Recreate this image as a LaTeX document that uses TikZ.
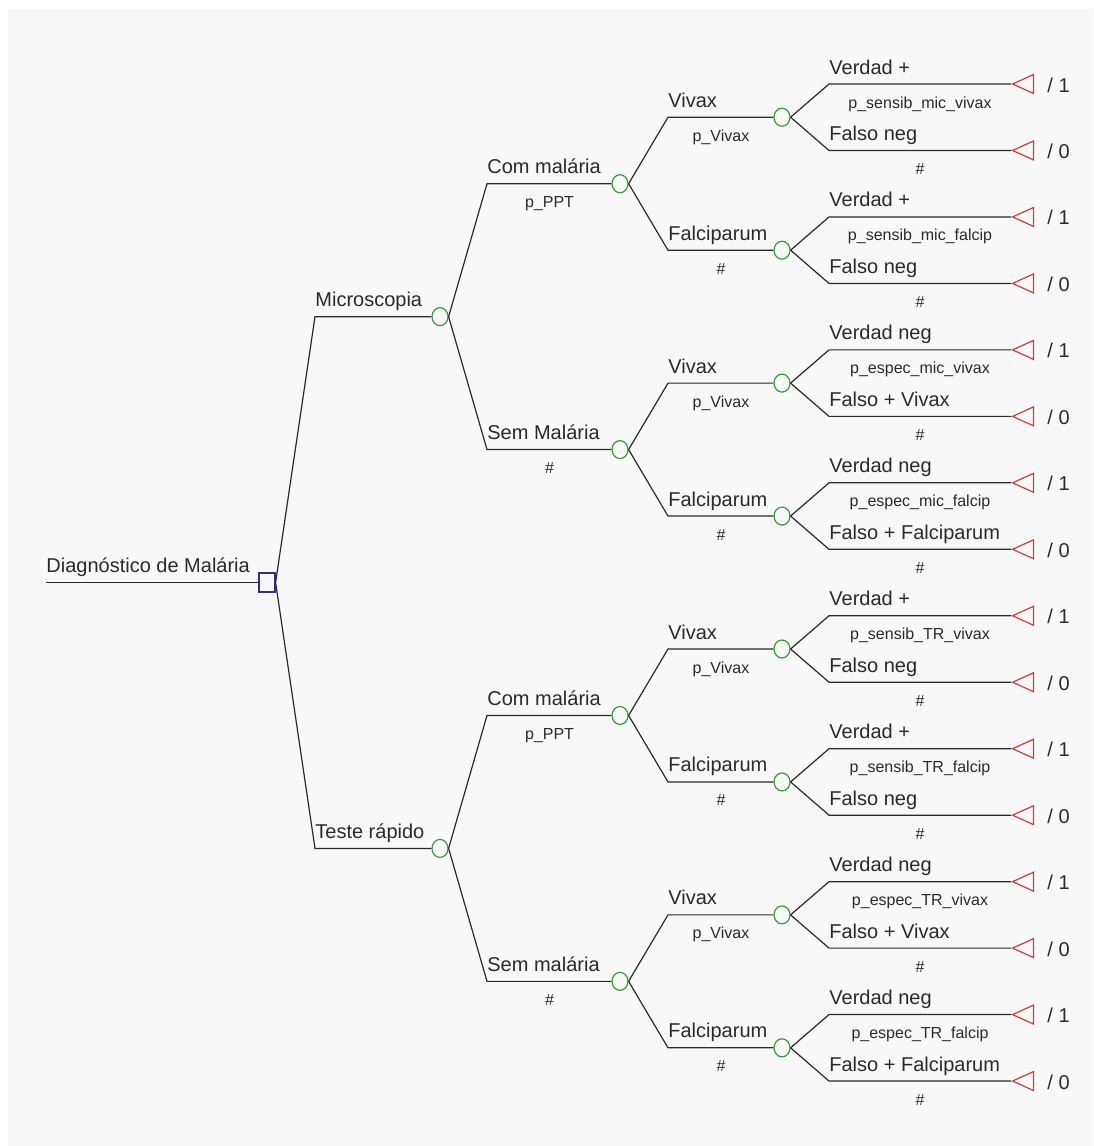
\documentclass[tikz,border=0pt]{standalone}
\usepackage{fontspec}
\setmainfont{Liberation Sans}
\usetikzlibrary{shapes}
\usepackage{xcolor}
\definecolor{panel}{HTML}{F8F8F8}
\definecolor{linegray}{HTML}{2A2A2A}
\definecolor{decblue}{HTML}{2E2E9A}
\definecolor{chgreen}{HTML}{3A983A}
\definecolor{termred}{HTML}{D63A3A}

\begin{document}
\begin{tikzpicture}[x=0.5pt,y=-0.5pt]
      \tikzstyle{branch} = [draw=linegray, line width=0.6pt]
      \tikzstyle{decision} = [rectangle, draw=decblue, line width=0.6pt, minimum width=8pt, minimum height=9.5pt, inner sep=0pt]
      \tikzstyle{chance} = [ellipse, draw=chgreen, line width=0.6pt, minimum width=8pt, minimum height=9pt, inner sep=0pt]
      \tikzstyle{terminal} = [isosceles triangle, shape border rotate=180, isosceles triangle stretches, draw=termred, line width=0.6pt, minimum width=9.5pt, minimum height=10.5pt, inner sep=0pt]
      \tikzstyle{lab} = [anchor=base west, inner sep=0pt, yshift=5pt, text=linegray, font=\fontsize{10}{12}\selectfont]
      \tikzstyle{prob} = [anchor=base, inner sep=0pt, yshift=-12pt, text=linegray, font=\fontsize{8}{10}\selectfont]
      \tikzstyle{payoff} = [anchor=base west, inner sep=0pt, yshift=-4pt, text=linegray, font=\fontsize{10}{12}\selectfont]

      \useasboundingbox (0,0) rectangle (1093,1146);
      \fill[panel] (8,9) rectangle (1093,1146);

      % raiz
      \coordinate (start) at (46,582.5);
      \node[decision] (d0) at (267,582.5) {};
      \draw[branch] (start) -- (d0);
      \node[lab] (d0-lab) at (start) {Diagnóstico de Malária};

      % testes
      \foreach \j/\txt in {1/Microscopia, 2/Teste rápido} {
        \pgfmathsetmacro\yy{84+66.47*(8*(\j-1)+3.5)}
        \node[chance] (a\j) at (440,\yy) {};
        \draw[branch] (d0.east) -- (315,\yy) -- (a\j);
        \node[lab] (a\j-lab) at (315,\yy) {\txt};
      }

      % com / sem malaria
      \foreach \j/\txt/\pr in {1/Com malária/p\_PPT, 2/Sem Malária/\#, 3/Com malária/p\_PPT, 4/Sem malária/\#} {
        \pgfmathsetmacro\yy{84+66.47*(4*(\j-1)+1.5)}
        \pgfmathtruncatemacro\up{(\j+1)/2}
        \node[chance] (b\j) at (620,\yy) {};
        \draw[branch] (a\up.east) -- (487,\yy) -- (b\j);
        \node[lab] (b\j-lab) at (487,\yy) {\txt};
        \node[prob] (b\j-pr) at (549.5,\yy) {\pr};
      }

      % especie
      \foreach \j/\txt/\pr in {1/Vivax/p\_Vivax, 2/Falciparum/\#, 3/Vivax/p\_Vivax, 4/Falciparum/\#,
                               5/Vivax/p\_Vivax, 6/Falciparum/\#, 7/Vivax/p\_Vivax, 8/Falciparum/\#} {
        \pgfmathsetmacro\yy{84+66.47*(2*(\j-1)+0.5)}
        \pgfmathtruncatemacro\up{(\j+1)/2}
        \node[chance] (c\j) at (782,\yy) {};
        \draw[branch] (b\up.east) -- (668,\yy) -- (c\j);
        \node[lab] (c\j-lab) at (668,\yy) {\txt};
        \node[prob] (c\j-pr) at (721,\yy) {\pr};
      }

      % resultados
      \foreach \j/\txt/\pr in {1/Verdad +/p\_sensib\_mic\_vivax, 2/Falso neg/\#,
                               3/Verdad +/p\_sensib\_mic\_falcip, 4/Falso neg/\#,
                               5/Verdad neg/p\_espec\_mic\_vivax, 6/Falso + Vivax/\#,
                               7/Verdad neg/p\_espec\_mic\_falcip, 8/Falso + Falciparum/\#,
                               9/Verdad +/p\_sensib\_TR\_vivax, 10/Falso neg/\#,
                               11/Verdad +/p\_sensib\_TR\_falcip, 12/Falso neg/\#,
                               13/Verdad neg/p\_espec\_TR\_vivax, 14/Falso + Vivax/\#,
                               15/Verdad neg/p\_espec\_TR\_falcip, 16/Falso + Falciparum/\#} {
        \pgfmathsetmacro\yy{84+66.47*(\j-1)}
        \pgfmathtruncatemacro\up{(\j+1)/2}
        \pgfmathtruncatemacro\pay{mod(\j,2)}
        \node[terminal, anchor=apex] (t\j) at (1011,\yy) {};
        \draw[branch] (c\up.east) -- (829,\yy) -- (t\j.apex);
        \node[lab] (t\j-lab) at (829,\yy) {\txt};
        \node[prob] (t\j-pr) at (920,\yy) {\pr};
        \node[payoff] (t\j-pay) at (1047,\yy) {/ \pay};
      }
\end{tikzpicture}
\end{document}
